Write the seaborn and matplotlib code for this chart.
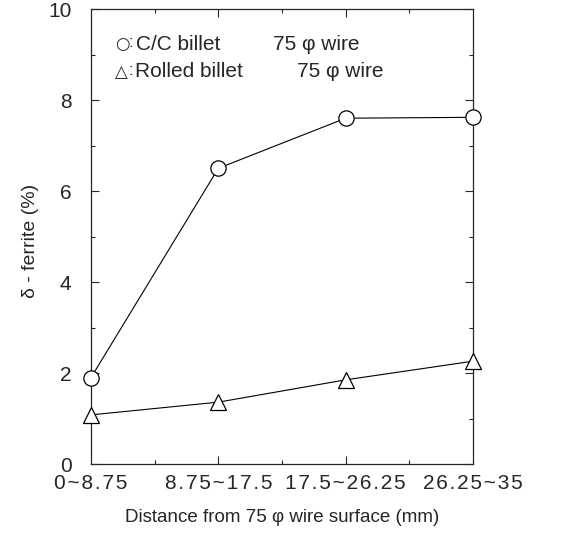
import numpy as np
import pandas as pd
import matplotlib
matplotlib.use("Agg")
import matplotlib.pyplot as plt
import seaborn as sns
from matplotlib.ticker import MultipleLocator

# data
regions = ["0~8.75", "8.75~17.5", "17.5~26.25", "26.25~35"]
cc_billet = [1.90, 6.50, 7.60, 7.62]
rolled_billet = [1.08, 1.36, 1.85, 2.26]

sns.set_style("ticks")
plt.rcParams['font.family'] = ['Liberation Sans', 'DejaVu Sans']

df = pd.DataFrame({
    'pos': list(range(len(regions))) * 2,
    'ferrite': cc_billet + rolled_billet,
    'billet': ['C/C'] * len(regions) + ['Rolled'] * len(regions),
})

fig = plt.figure(figsize=(5.85, 5.47), dpi=100)
ax = fig.add_axes([0.1556, 0.1517, 0.6529, 0.8318])

sns.lineplot(data=df, x='pos', y='ferrite', hue='billet', style='billet',
             palette={'C/C': 'black', 'Rolled': 'black'},
             markers={'C/C': 'o', 'Rolled': '^'}, dashes=False,
             markersize=11, markerfacecolor='white', markeredgecolor='black',
             markeredgewidth=0.9, linewidth=0.8, legend=False, ax=ax,
             clip_on=False, zorder=3)

# scanned labels have loose letter spacing
hair = '\u200a'
spaced = [hair.join(r) for r in regions]

ax.set_xlim(0, 3)
ax.set_ylim(0, 10)
ax.set_xticks([0, 1, 2, 3])
ax.set_xticklabels(spaced, fontsize=15)
ax.xaxis.set_minor_locator(MultipleLocator(0.5))
ax.yaxis.set_major_locator(MultipleLocator(2))
ax.yaxis.set_minor_locator(MultipleLocator(1))
ax.tick_params(which='both', direction='in', top=True, right=True,
               labelsize=15, width=0.8)
ax.tick_params(which='major', length=6)
ax.tick_params(which='minor', length=3)
ax.tick_params(axis='x', which='major', pad=7)
ax.tick_params(axis='y', which='major', pad=14)
for t in (ax.xaxis.get_major_ticks()[0], ax.xaxis.get_major_ticks()[-1]):
    t.tick1line.set_visible(False)
    t.tick2line.set_visible(False)
for sp in ax.spines.values():
    sp.set_linewidth(0.9)

ax.set_xlabel('Distance from 75 \u03c6 wire surface (mm)', fontsize=13.5, labelpad=12)
ax.set_ylabel('\u03b4 - ferrite (%)', fontsize=14, labelpad=12)
ax.yaxis.set_label_coords(-0.135, 0.49)

kw = dict(transform=ax.transAxes, va='center')
ax.text(0.062, 0.923, '\u25cb', fontsize=12, family=['DejaVu Sans'], **kw)
ax.text(0.099, 0.926, ':', fontsize=12, **kw)
ax.text(0.118, 0.923, 'C/C billet', fontsize=15, **kw)
ax.text(0.476, 0.923, '75 \u03c6 wire', fontsize=15, **kw)
ax.text(0.062, 0.862, '\u25b3', fontsize=12, family=['DejaVu Sans'], **kw)
ax.text(0.099, 0.865, ':', fontsize=12, **kw)
ax.text(0.114, 0.862, 'Rolled billet', fontsize=15, **kw)
ax.text(0.539, 0.862, '75 \u03c6 wire', fontsize=15, **kw)

fig.savefig('out.png', dpi=100)
